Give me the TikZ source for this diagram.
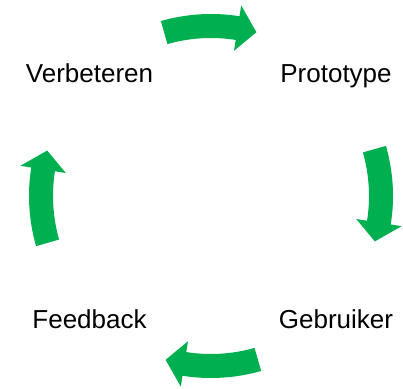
\documentclass[tikz,border=0pt]{standalone}
\usepackage{fontspec}
\setmainfont{Liberation Sans}
\definecolor{cyclegreen}{RGB}{0,176,80}
% curved block arrow round the centre, #1 = middle angle
\def\cyclearrow(#1){\fill[cyclegreen] ({#1+16}:182) arc[start angle={#1+16}, end angle={#1-9}, radius=182] -- ({#1-9}:193) -- ({#1-15.5}:170) -- ({#1-9}:147) -- ({#1-9}:158) arc[start angle={#1-9}, end angle={#1+16}, radius=158] -- cycle;}

\begin{document}
\begin{tikzpicture}[x=1pt, y=1pt, steplabel/.style={font=\fontsize{26}{30}\selectfont, anchor=base}]
			\useasboundingbox (0, 0) rectangle (403, 388);
			
			%%%%% LABELS %%%%%
			\node[steplabel] (verbeteren) at (89.5, 305) {Verbeteren};
			\node[steplabel] (prototype) at (336, 305) {Prototype};
			\node[steplabel] (feedback) at (89.5, 60) {Feedback};
			\node[steplabel] (gebruiker) at (336, 60) {Gebruiker};
			
			%%%%% ARROWS %%%%%
			\begin{scope}[shift={(211, 192)}]
				\cyclearrow(90)
				\cyclearrow(0)
				\cyclearrow(-90)
				\cyclearrow(180)
			\end{scope}
		\end{tikzpicture}
\end{document}
